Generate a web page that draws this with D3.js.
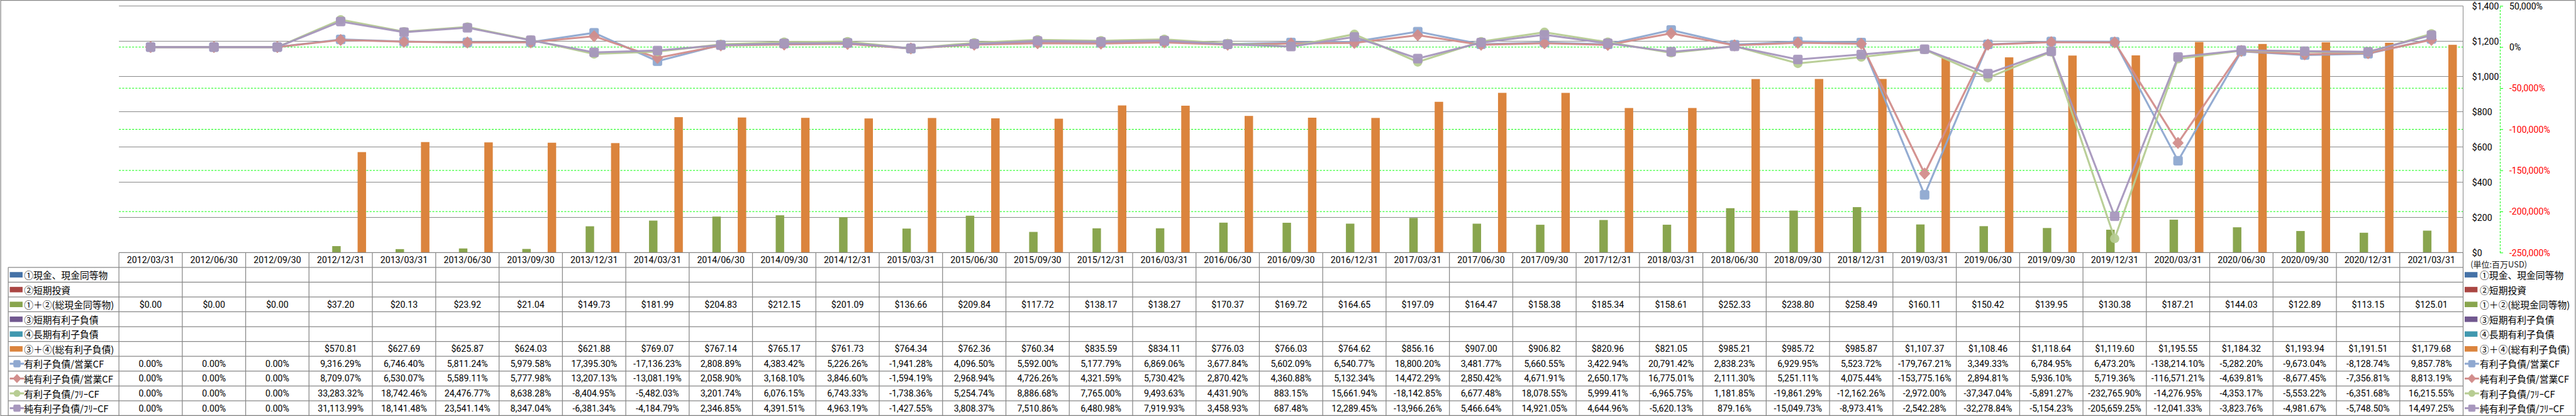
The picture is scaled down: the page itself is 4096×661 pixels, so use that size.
<!DOCTYPE html>
<html><head><meta charset="utf-8">
<script src="https://cdnjs.cloudflare.com/ajax/libs/d3/7.8.5/d3.min.js"></script>
<style>html,body{margin:0;padding:0;background:#fff;overflow:hidden}</style>
</head><body>
<svg id="chart" width="4096" height="661" viewBox="0 0 6635 1071"></svg>
<script>
// ---------------- DATA ----------------
const dates = ["2012/03/31","2012/06/30","2012/09/30","2012/12/31","2013/03/31","2013/06/30","2013/09/30","2013/12/31",
"2014/03/31","2014/06/30","2014/09/30","2014/12/31","2015/03/31","2015/06/30","2015/09/30","2015/12/31",
"2016/03/31","2016/06/30","2016/09/30","2016/12/31","2017/03/31","2017/06/30","2017/09/30","2017/12/31",
"2018/03/31","2018/06/30","2018/09/30","2018/12/31","2019/03/31","2019/06/30","2019/09/30","2019/12/31",
"2020/03/31","2020/06/30","2020/09/30","2020/12/31","2021/03/31"];

const cash = dates.map(() => null);            // ①現金、現金同等物
const shortInv = dates.map(() => null);        // ②短期投資
const cashTotal = [0,0,0,37.20,20.13,23.92,21.04,149.73,181.99,204.83,212.15,201.09,136.66,209.84,117.72,138.17,
138.27,170.37,169.72,164.65,197.09,164.47,158.38,185.34,158.61,252.33,238.80,258.49,160.11,150.42,139.95,130.38,
187.21,144.03,122.89,113.15,125.01];
const shortDebt = dates.map(() => null);       // ③短期有利子負債
const longDebt = dates.map(() => null);        // ④長期有利子負債
const debtTotal = [null,null,null,570.81,627.69,625.87,624.03,621.88,769.07,767.14,765.17,761.73,764.34,762.36,760.34,835.59,
834.11,776.03,766.03,764.62,856.16,907.00,906.82,820.96,821.05,985.21,985.72,985.87,1107.37,1108.46,1118.64,1119.60,
1195.55,1184.32,1193.94,1191.51,1179.68];

const debtOpCF = [0,0,0,9316.29,6746.40,5811.24,5979.58,17395.30,-17136.23,2808.89,4383.42,5226.26,-1941.28,4096.50,5592.00,5177.79,
6869.06,3677.84,5602.09,6540.77,18800.20,3481.77,5660.55,3422.94,20791.42,2838.23,6929.95,5523.72,-179767.21,3349.33,6784.95,6473.20,
-138214.10,-5282.20,-9673.04,-8128.74,9857.78];
const netDebtOpCF = [0,0,0,8709.07,6530.07,5589.11,5777.98,13207.13,-13081.19,2058.90,3168.10,3846.60,-1594.19,2968.94,4726.26,4321.59,
5730.42,2870.42,4360.88,5132.34,14472.29,2850.42,4671.91,2650.17,16775.01,2111.30,5251.11,4075.44,-153775.16,2894.81,5936.10,5719.36,
-116571.21,-4639.81,-8677.45,-7356.81,8813.19];
const debtFCF = [0,0,0,33283.32,18742.46,24476.77,8638.28,-8404.95,-5482.03,3201.74,6076.15,6743.33,-1738.36,5254.74,8886.68,7765.00,
9493.63,4431.90,883.15,15661.94,-18142.85,6677.48,18078.55,5999.41,-6965.75,1181.85,-19861.29,-12162.26,-2972.00,-37347.04,-5891.27,-232765.90,
-14276.95,-4353.17,-5553.22,-6351.68,16215.55];
const netDebtFCF = [0,0,0,31113.99,18141.48,23541.14,8347.04,-6381.34,-4184.79,2346.85,4391.51,4963.19,-1427.55,3808.37,7510.86,6480.98,
7919.93,3458.93,687.48,12289.45,-13966.26,5466.64,14921.05,4644.96,-5620.13,879.16,-15049.73,-8973.41,-2542.28,-32278.84,-5154.23,-205659.25,
-12041.33,-3823.76,-4981.67,-5748.50,14497.25];

const moneyTicks = [0,200,400,600,800,1000,1200,1400];
const pctTicks = [-250000,-200000,-150000,-100000,-50000,0,50000];

const barSeries = [
  {name:"①現金、現金同等物", values:cash, color:"#4572A7"},
  {name:"②短期投資", values:shortInv, color:"#AA4643"},
  {name:"①＋②(総現金同等物)", values:cashTotal, color:"#89A54E"},
  {name:"③短期有利子負債", values:shortDebt, color:"#71588F"},
  {name:"④長期有利子負債", values:longDebt, color:"#4198AF"},
  {name:"③＋④(総有利子負債)", values:debtTotal, color:"#DB843D"}
];
const lineSeries = [
  {name:"有利子負債/営業CF", values:debtOpCF, color:"#8FA8D0", marker:"square"},
  {name:"純有利子負債/営業CF", values:netDebtOpCF, color:"#D28E8C", marker:"diamond"},
  {name:"有利子負債/ﾌﾘｰCF", values:debtFCF, color:"#B7CD93", marker:"circle"},
  {name:"純有利子負債/ﾌﾘｰCF", values:netDebtFCF, color:"#A797BD", marker:"square"}
];

// ---------------- LAYOUT (reference pixel units, scaled by viewBox) ----------------
const X0 = 305.6, X1 = 6345, YT = 15.4, YB = 650.5;
const TBOT = 1070, ROWH = (TBOT - 688.3) / 10, HEAD_BOT = 688.3, LEG_L = 20.4;
const NUMFONT = "Roboto, 'Liberation Sans', sans-serif";
const JPFONT = "'Noto Sans CJK JP', 'Noto Sans', sans-serif";
const GRID = "#878787";

const loc = d3.formatLocale({decimal:".", thousands:",", grouping:[3], currency:["$",""], minus:"-"});
const fMoney = loc.format("$,.2f");
const fPct = v => loc.format(",.2f")(v) + "%";

const svg = d3.select("#chart");
svg.append("rect").attr("x",1).attr("y",1).attr("width",6633).attr("height",1069)
  .attr("fill","#fff").attr("stroke",GRID).attr("stroke-width",2);

const x = d3.scaleBand().domain(dates).range([X0, X1]).padding(0);
const xs = d3.scaleBand().domain(d3.range(barSeries.length)).range([0, x.bandwidth()]).paddingInner(0).paddingOuter(0.743);
const yL = d3.scaleLinear().domain([0,1400]).range([YB, YT]);
const yR = d3.scaleLinear().domain([-250000,50000]).range([YB, YT]);
const cx = d => x(d) + x.bandwidth()/2;

// secondary (green dashed) gridlines
svg.append("g").selectAll("line").data(pctTicks.filter(t => t > -250000 && t < 50000)).join("line")
  .attr("x1",X0).attr("x2",X1).attr("y1",d=>yR(d)).attr("y2",d=>yR(d))
  .attr("stroke","#00FF00").attr("stroke-width",1.6).attr("stroke-dasharray","5,3.5");

// primary gridlines
svg.append("g").selectAll("line").data(moneyTicks).join("line")
  .attr("x1",X0).attr("x2",X1).attr("y1",d=>yL(d)).attr("y2",d=>yL(d))
  .attr("stroke",GRID).attr("stroke-width",1.6);
svg.append("line").attr("x1",X1).attr("x2",X1).attr("y1",YT).attr("y2",YB).attr("stroke",GRID).attr("stroke-width",1.6);

// bars
barSeries.forEach((s, i) => {
  svg.append("g").selectAll("rect").data(dates.map((d,j)=>({d, v:s.values[j]})).filter(o => o.v != null && o.v > 0)).join("rect")
    .attr("x", o => x(o.d) + xs(i)).attr("width", xs.bandwidth())
    .attr("y", o => yL(o.v)).attr("height", o => yL(0) - yL(o.v))
    .attr("fill", s.color);
});

// markers
function marker(g, type, px, py, color, sz) {
  const h = sz/2;
  if (type === "square") {
    g.append("rect").attr("x",px-h).attr("y",py-h).attr("width",sz).attr("height",sz).attr("rx",sz*0.14)
      .attr("fill",color).attr("stroke",color).attr("stroke-width",1.5);
  } else if (type === "diamond") {
    const a = h*1.2, b = h*1.3;
    g.append("path").attr("d",`M${px},${py-b}L${px+a},${py}L${px},${py+b}L${px-a},${py}Z`)
      .attr("fill",color).attr("stroke",color).attr("stroke-width",1.5).attr("stroke-linejoin","round");
  } else {
    g.append("circle").attr("cx",px).attr("cy",py).attr("r",h*1.04).attr("fill",color);
  }
}

// lines
const lineGen = d3.line().x(o => cx(o.d)).y(o => yR(o.v));
lineSeries.forEach(s => {
  const pts = dates.map((d,j)=>({d, v:s.values[j]}));
  const g = svg.append("g").attr("opacity",0.95);
  g.append("path").attr("d", lineGen(pts)).attr("fill","none").attr("stroke",s.color)
    .attr("stroke-width",5).attr("stroke-linejoin","round");
  pts.forEach(o => marker(g, s.marker, cx(o.d), yR(o.v), s.color, 23));
});

// primary axis labels (right side)
const axL = svg.append("g").attr("transform",`translate(6368,0)`)
  .call(d3.axisRight(yL).tickValues(moneyTicks).tickSize(0).tickPadding(0).tickFormat(loc.format("$,.0f")));
axL.select(".domain").remove();
axL.selectAll("text").attr("font-family",NUMFONT).attr("font-size",23).attr("fill","#000").attr("dy","0.35em");

// secondary axis (green dashed)
const axR = svg.append("g").attr("transform",`translate(6440,0)`)
  .call(d3.axisRight(yR).tickValues(pctTicks).tickSize(8).tickPadding(16).tickSizeOuter(0)
        .tickFormat(v => loc.format(",.0f")(v) + "%"));
axR.select(".domain").attr("stroke","#00FF00").attr("stroke-width",1.6).attr("stroke-dasharray","5,3.5");
axR.selectAll(".tick line").attr("stroke","#00FF00").attr("stroke-width",1.6);
axR.selectAll("text").attr("font-family",NUMFONT).attr("font-size",23).attr("dy","0.35em")
  .attr("fill", v => v < 0 ? "#FF0000" : "#000");

svg.append("text").attr("x",6364).attr("y",679).attr("dominant-baseline","central")
  .attr("font-family",JPFONT).attr("font-size",21).attr("fill","#222").text("(単位:百万USD)");

// ---------------- TABLE ----------------
const tbl = svg.append("g");
const boundaries = dates.map(d => x(d)).concat([X1]);
tbl.selectAll("line.v").data(boundaries).join("line").attr("class","v")
  .attr("x1",d=>d).attr("x2",d=>d).attr("y1",YB).attr("y2",TBOT).attr("stroke",GRID).attr("stroke-width",2);
tbl.append("line").attr("x1",LEG_L).attr("x2",LEG_L).attr("y1",HEAD_BOT).attr("y2",TBOT).attr("stroke",GRID).attr("stroke-width",2);
tbl.append("line").attr("x1",X0).attr("x2",X1).attr("y1",YB).attr("y2",YB).attr("stroke",GRID).attr("stroke-width",2);
tbl.selectAll("line.h").data(d3.range(11)).join("line").attr("class","h")
  .attr("x1",LEG_L).attr("x2",X1).attr("y1",i=>HEAD_BOT+i*ROWH).attr("y2",i=>HEAD_BOT+i*ROWH)
  .attr("stroke",GRID).attr("stroke-width",2);

// header dates
tbl.selectAll("text.date").data(dates).join("text").attr("class","date")
  .attr("x",cx).attr("y",(YB+HEAD_BOT)/2).attr("text-anchor","middle").attr("dominant-baseline","central")
  .attr("font-family",NUMFONT).attr("font-size",23).attr("fill","#000").text(d=>d);

const rows = barSeries.map(s => ({s, kind:"bar", fmt:fMoney})).concat(lineSeries.map(s => ({s, kind:"line", fmt:fPct})));
rows.forEach((r, i) => {
  const yc = HEAD_BOT + (i+0.5)*ROWH;
  // values
  tbl.append("g").selectAll("text").data(dates.map((d,j)=>({d, v:r.s.values[j]})).filter(o=>o.v!=null)).join("text")
    .attr("x",o=>cx(o.d)).attr("y",yc).attr("text-anchor","middle").attr("dominant-baseline","central")
    .attr("font-family",NUMFONT).attr("font-size",23).attr("fill","#000").text(o=>r.fmt(o.v));
  // legend keys: in table and at the right
  [[LEG_L+4, 61], [6349, 6388]].forEach(([kx, tx]) => {
    const g = svg.append("g");
    if (r.kind === "bar") {
      g.append("rect").attr("x",kx).attr("y",yc-7).attr("width",33).attr("height",14).attr("fill",r.s.color);
    } else {
      g.append("line").attr("x1",kx).attr("x2",kx+37).attr("y1",yc).attr("y2",yc).attr("stroke",r.s.color).attr("stroke-width",5);
      marker(g, r.s.marker, kx+18.5, yc, r.s.color, 17);
    }
    g.append("text").attr("x",tx).attr("y",yc).attr("dominant-baseline","central")
      .attr("font-family",JPFONT).attr("font-size",24).attr("fill","#000").text(r.s.name);
  });
});
</script>
</body></html>
